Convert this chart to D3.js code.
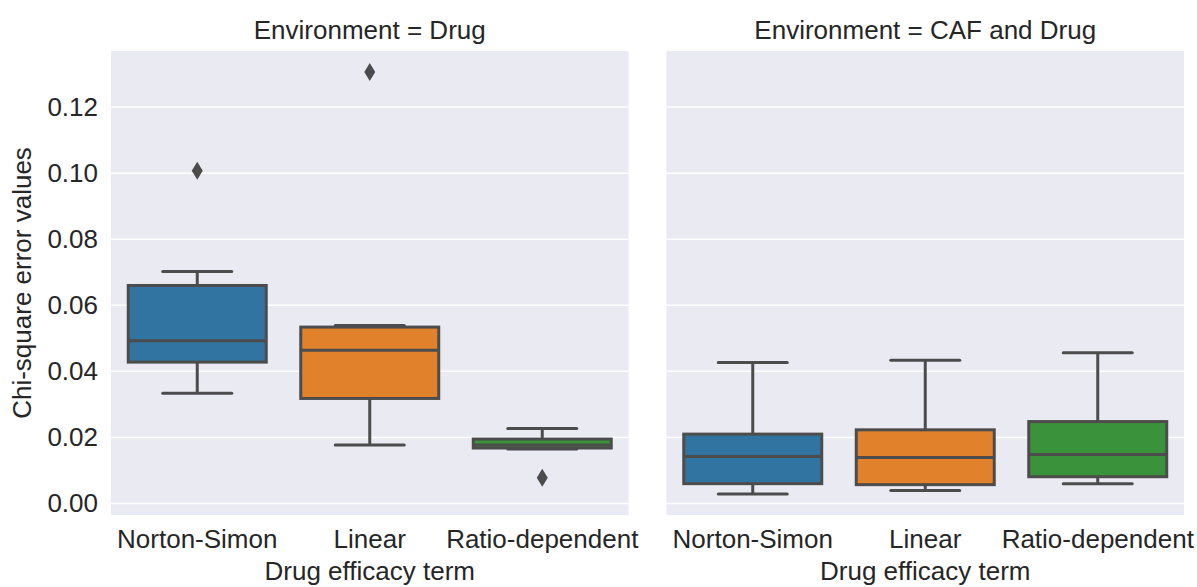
<!DOCTYPE html>
<html>
<head>
<meta charset="utf-8">
<script src="https://cdn.jsdelivr.net/npm/d3@7"></script>
<style>
  body { margin: 0; background: #fff; }
  text { font-family: "Liberation Sans", Arial, sans-serif; fill: #262626; }
</style>
</head>
<body>
<div id="chart"></div>
<script>
// data
var terms = ["Norton-Simon", "Linear", "Ratio-dependent"];
var environments = ["Drug", "CAF and Drug"];
var colors = ["#3274a1", "#e1812c", "#3a923a"];
var yTicks = [0, 0.02, 0.04, 0.06, 0.08, 0.10, 0.12];

// per environment, one value per term
var whiskerLow  = [[0.0334, 0.0177, 0.0165], [0.0029, 0.0039, 0.0060]];
var q1          = [[0.0428, 0.0318, 0.0168], [0.0060, 0.0057, 0.0081]];
var median      = [[0.0493, 0.0464, 0.0177], [0.0142, 0.0139, 0.0148]];
var q3          = [[0.0660, 0.0534, 0.0195], [0.0210, 0.0223, 0.0248]];
var whiskerHigh = [[0.0702, 0.0539, 0.0227], [0.0427, 0.0434, 0.0456]];
var outliers    = [[[0.1007], [0.1306], [0.0078]], [[], [], []]];

var W = 1197, H = 587;
var margin = {top: 51, bottom: 72, left: 111, right: 13};
var gap = 38;
var panelW = (W - margin.left - margin.right - gap) / 2;
var height = H - margin.top - margin.bottom;
var fs = "26px";

var svg = d3.select("#chart")
  .append("svg")
    .attr("width", W)
    .attr("height", H);

// shared y scale with matplotlib-like 5% padding
var allVals = [].concat(
  whiskerLow.flat(), whiskerHigh.flat(), outliers.flat(2));
var lo = d3.min(allVals), hi = d3.max(allVals), pad = (hi - lo) * 0.05;
var y = d3.scaleLinear()
  .domain([lo - pad, hi + pad])
  .range([height, 0]);

var x = d3.scaleBand()
  .domain(terms)
  .range([0, panelW])
  .paddingInner(0)
  .paddingOuter(0);

var boxW = x.bandwidth() * 0.8;
var lineCol = "#4c4c4c";
var lw = 3;

environments.forEach(function(env, p) {
  var g = svg.append("g")
    .attr("transform", "translate(" + (margin.left + p * (panelW + gap)) + "," + margin.top + ")");

  g.append("rect")
    .attr("width", panelW)
    .attr("height", height)
    .attr("fill", "#eaeaf2");

  g.selectAll(".grid")
    .data(yTicks)
    .enter().append("line")
      .attr("x1", 0).attr("x2", panelW)
      .attr("y1", function(d) { return y(d); })
      .attr("y2", function(d) { return y(d); })
      .attr("stroke", "#fff")
      .attr("stroke-width", 1.5);

  // title
  g.append("text")
    .attr("x", panelW / 2)
    .attr("y", -12)
    .attr("text-anchor", "middle")
    .style("font-size", fs)
    .text("Environment = " + env);

  // x axis labels
  var xAxis = g.append("g")
    .attr("transform", "translate(0," + height + ")")
    .call(d3.axisBottom(x).tickSize(0).tickPadding(15));
  xAxis.select(".domain").remove();
  xAxis.selectAll("text")
    .style("font-size", fs)
    .style("font-family", "Liberation Sans, Arial, sans-serif")
    .attr("fill", "#262626");

  g.append("text")
    .attr("x", panelW / 2)
    .attr("y", height + 65)
    .attr("text-anchor", "middle")
    .style("font-size", fs)
    .text("Drug efficacy term");

  if (p == 0) {
    var yAxis = g.append("g")
      .call(d3.axisLeft(y).tickValues(yTicks).tickSize(0).tickPadding(13)
        .tickFormat(d3.format(".2f")));
    yAxis.select(".domain").remove();
    yAxis.selectAll("text")
      .style("font-size", fs)
      .style("font-family", "Liberation Sans, Arial, sans-serif")
      .attr("fill", "#262626");

    g.append("text")
      .attr("transform", "rotate(-90)")
      .attr("x", -height / 2 + 0)
      .attr("y", -80)
      .attr("text-anchor", "middle")
      .style("font-size", fs)
      .text("Chi-square error values");
  }

  terms.forEach(function(t, i) {
    var cx = x(t) + x.bandwidth() / 2;
    var b = g.append("g");

    // whiskers
    b.append("line")
      .attr("x1", cx).attr("x2", cx)
      .attr("y1", y(q3[p][i])).attr("y2", y(whiskerHigh[p][i]))
      .attr("stroke", lineCol).attr("stroke-width", lw);
    b.append("line")
      .attr("x1", cx).attr("x2", cx)
      .attr("y1", y(q1[p][i])).attr("y2", y(whiskerLow[p][i]))
      .attr("stroke", lineCol).attr("stroke-width", lw);
    [whiskerHigh[p][i], whiskerLow[p][i]].forEach(function(v) {
      b.append("line")
        .attr("x1", cx - boxW / 4).attr("x2", cx + boxW / 4)
        .attr("y1", y(v)).attr("y2", y(v))
        .attr("stroke", lineCol).attr("stroke-width", lw)
        .attr("stroke-linecap", "round");
    });

    // box
    b.append("rect")
      .attr("x", cx - boxW / 2)
      .attr("y", y(q3[p][i]))
      .attr("width", boxW)
      .attr("height", y(q1[p][i]) - y(q3[p][i]))
      .attr("fill", colors[i])
      .attr("stroke", lineCol)
      .attr("stroke-width", lw);

    b.append("line")
      .attr("x1", cx - boxW / 2).attr("x2", cx + boxW / 2)
      .attr("y1", y(median[p][i])).attr("y2", y(median[p][i]))
      .attr("stroke", lineCol).attr("stroke-width", lw);

    // outliers (thin diamonds)
    b.selectAll(".out")
      .data(outliers[p][i])
      .enter().append("path")
        .attr("d", function(d) {
          var py = y(d);
          return "M" + cx + "," + (py - 9) + "L" + (cx + 5.5) + "," + py +
                 "L" + cx + "," + (py + 9) + "L" + (cx - 5.5) + "," + py + "Z";
        })
        .attr("fill", lineCol);
  });
});
</script>
</body>
</html>
